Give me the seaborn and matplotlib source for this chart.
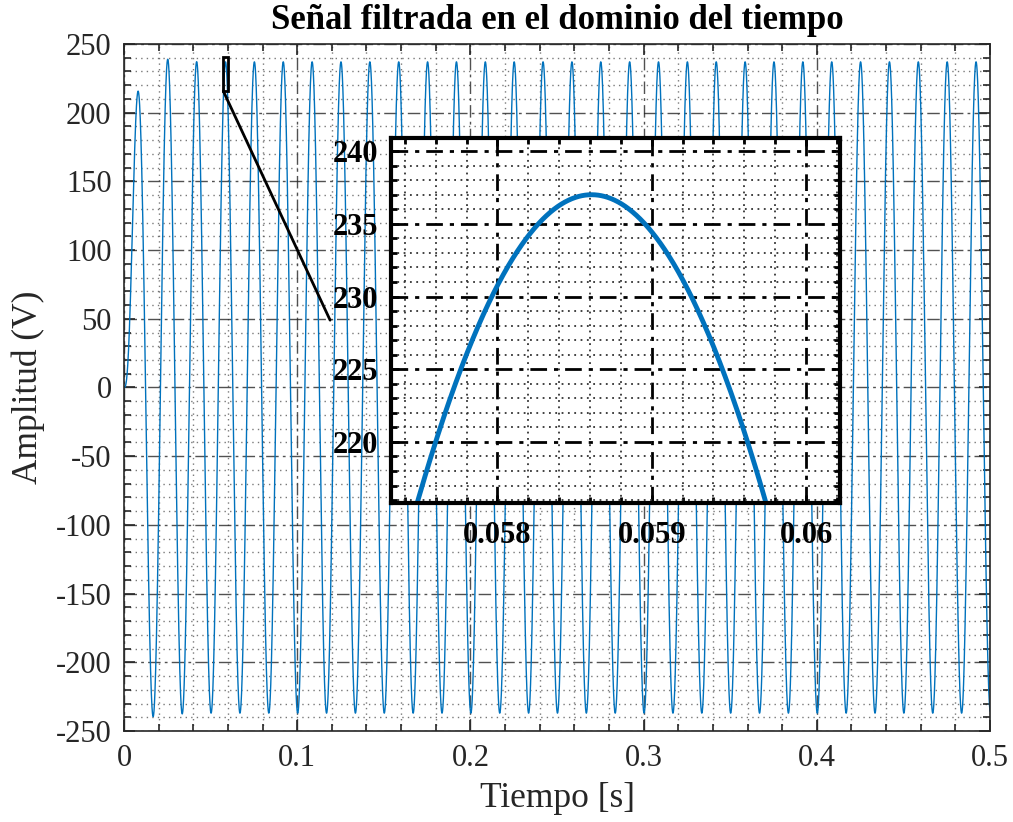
import numpy as np
import pandas as pd
import matplotlib
matplotlib.use("Agg")
import matplotlib.pyplot as plt
import seaborn as sns
from matplotlib.ticker import MultipleLocator, FixedLocator, FixedFormatter
from matplotlib.patches import Rectangle

# ---- values ----
amplitude_v = 237.0        # steady-state crest (V)
frequency_hz = 60.0        # crest spacing ~0.0167 s
crest_time_s = 0.05861     # crest shown in the inset
damping = 0.52             # start-up transient (first crest ~216 V, first trough ~-243 V)
t_start, t_end = 0.0, 0.5

main_xticks = [0.0, 0.1, 0.2, 0.3, 0.4, 0.5]
main_xticklabels = ["0", "0.1", "0.2", "0.3", "0.4", "0.5"]
main_yticks = [-250, -200, -150, -100, -50, 0, 50, 100, 150, 200, 250]
inset_xticks = [0.058, 0.059, 0.060]
inset_xticklabels = ["0.058", "0.059", "0.06"]
inset_yticks = [220, 225, 230, 235, 240]
inset_xlim = (0.05731, 0.06022)
inset_ylim = (215.8, 240.9)
connector_end = (0.119, 49.0)

title = "Señal filtrada en el dominio del tiempo"
xlabel = "Tiempo [s]"
ylabel = "Amplitud (V)"


def filtered_signal(t):
    w = 2 * np.pi * frequency_hz
    phi = (w * crest_time_s) % (2 * np.pi) - np.pi / 2
    T = -np.tan(phi)
    r = (2 * damping + np.sqrt(4 * damping ** 2 + 4 * T ** 2)) / (2 * T)
    wn = w / r
    alpha = damping * wn
    wd = wn * np.sqrt(1 - damping ** 2)
    c1 = amplitude_v * np.sin(phi)
    c2 = (alpha * c1 - amplitude_v * w * np.cos(phi)) / wd
    return amplitude_v * np.sin(w * t - phi) + np.exp(-alpha * t) * (c1 * np.cos(wd * t) + c2 * np.sin(wd * t))


t_main = np.linspace(t_start, t_end, 20001)
df_main = pd.DataFrame({"t": t_main, "y": filtered_signal(t_main)})
t_zoom = np.linspace(inset_xlim[0] - 0.0003, inset_xlim[1] + 0.0003, 2001)
df_zoom = pd.DataFrame({"t": t_zoom, "y": filtered_signal(t_zoom)})

sns.set_style("ticks")
plt.rcParams["font.family"] = ["Liberation Serif", "DejaVu Serif"]
plt.rcParams["axes.unicode_minus"] = False

W, H = 1013, 822
fig = plt.figure(figsize=(W / 100, H / 100), dpi=100)
fig.patch.set_facecolor("white")

ax = fig.add_axes([124 / W, 1 - 731 / H, (990 - 124) / W, (731 - 44) / H])
blue = "#0072BD"
sns.lineplot(data=df_main, x="t", y="y", ax=ax, color=blue, lw=1.0, estimator=None, sort=False)
ax.set_xlim(t_start, t_end)
ax.set_ylim(-250, 250)
ax.xaxis.set_major_locator(FixedLocator(main_xticks))
ax.xaxis.set_major_formatter(FixedFormatter(main_xticklabels))
ax.yaxis.set_major_locator(FixedLocator(main_yticks))
ax.xaxis.set_minor_locator(MultipleLocator(0.02))
ax.yaxis.set_minor_locator(MultipleLocator(10))
ax.grid(which="major", color="#262626", linestyle=(0, (9, 3, 2, 3)), lw=1.0, alpha=0.8)
ax.grid(which="minor", color="#404040", linestyle=(0, (1, 3)), lw=1.0, alpha=0.7)
ax.tick_params(which="both", direction="in", top=True, right=True, colors="#262626",
               labelsize=22, width=1.2)
ax.tick_params(which="major", length=8, pad=9)
ax.tick_params(which="minor", length=5)
for s in ax.spines.values():
    s.set_color("#262626")
    s.set_linewidth(1.2)
ax.set_xlabel(xlabel, fontsize=25.5, color="#262626", labelpad=7)
ax.set_ylabel(ylabel, fontsize=25.5, color="#262626", labelpad=8)
ax.set_title(title, fontsize=25, fontweight="bold", color="black", pad=11)

# zoom box and connector
ax.add_patch(Rectangle((inset_xlim[0], inset_ylim[0]), inset_xlim[1] - inset_xlim[0],
                       inset_ylim[1] - inset_ylim[0], fill=False, ec="black", lw=2, zorder=5))
ax.plot([inset_xlim[0], connector_end[0]], [inset_ylim[0], connector_end[1]], color="black", lw=2, zorder=5)

# inset
axi = fig.add_axes([391 / W, 1 - 503 / H, (840 - 391) / W, (503 - 138) / H])
axi.set_facecolor("white")
sns.lineplot(data=df_zoom, x="t", y="y", ax=axi, color=blue, lw=3.5, estimator=None, sort=False)
axi.set_xlim(*inset_xlim)
axi.set_ylim(*inset_ylim)
axi.xaxis.set_major_locator(FixedLocator(inset_xticks))
axi.xaxis.set_major_formatter(FixedFormatter(inset_xticklabels))
axi.yaxis.set_major_locator(FixedLocator(inset_yticks))
axi.xaxis.set_minor_locator(MultipleLocator(0.0002))
axi.yaxis.set_minor_locator(MultipleLocator(1))
axi.grid(which="major", color="black", linestyle=(0, (6, 2.5, 1.5, 2.5)), lw=2.0)
axi.grid(which="minor", color="#333333", linestyle=(0, (1, 2.5)), lw=1.3)
axi.tick_params(which="both", direction="in", top=True, right=True, colors="black",
                labelsize=22, width=2)
axi.tick_params(which="major", length=6)
axi.tick_params(axis="x", which="major", pad=13)
axi.tick_params(axis="y", which="major", pad=9)
axi.tick_params(which="minor", length=4)
for lab in axi.get_xticklabels() + axi.get_yticklabels():
    lab.set_fontweight("bold")
for s in axi.spines.values():
    s.set_color("black")
    s.set_linewidth(3)
axi.set_xlabel("")
axi.set_ylabel("")

fig.savefig("out.png", dpi=100, facecolor="white")
